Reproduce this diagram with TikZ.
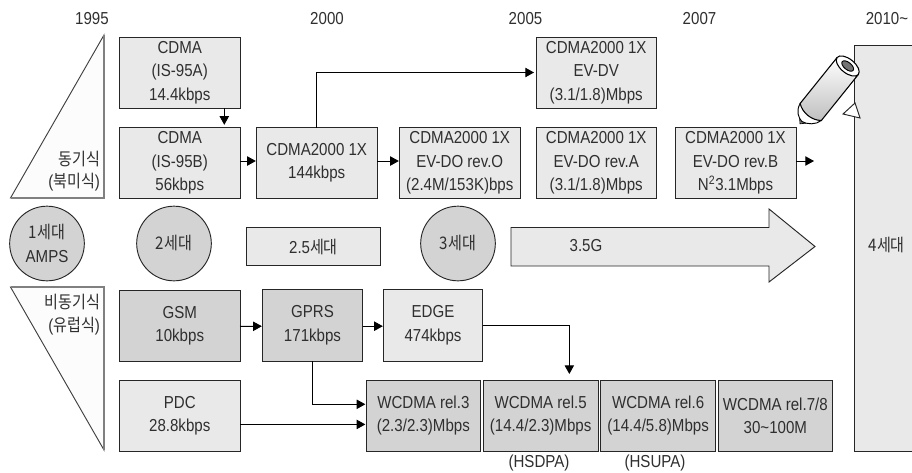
\documentclass[tikz,border=0pt]{standalone}
\usepackage{fontspec}
\setmainfont[FakeStretch=0.87]{Liberation Sans}
\newfontfamily\kr[FakeStretch=0.87]{Noto Sans CJK KR}
\usetikzlibrary{arrows.meta}
\definecolor{lightbox}{HTML}{E9E9E9}
\definecolor{darkbox}{HTML}{D3D3D3}
\definecolor{ink}{HTML}{2F2F2F}
\newcommand{\bx}[7]{%
  \pgfmathsetmacro{\bxcx}{(#3+#5)/2}\pgfmathsetmacro{\bxcy}{(#4+#6)/2}%
  \pgfmathsetmacro{\bxw}{(#5-#3)*0.75}\pgfmathsetmacro{\bxh}{(#6-#4)*0.75}%
  \node[#2,minimum width=\bxw pt,minimum height=\bxh pt] (#1) at (\bxcx,\bxcy) {#7};}
\tikzset{
  every node/.style={font=\fontsize{13}{17.6}\selectfont,text=ink,align=center,inner sep=0pt,outer sep=0pt},
  lightb/.style={draw=black!85,line width=0.7pt,fill=lightbox,rectangle},
  darkb/.style={draw=black!85,line width=0.7pt,fill=darkbox,rectangle},
  gen/.style={circle,draw=black!85,line width=0.7pt,fill=darkbox,minimum size=56pt},
  conn/.style={draw=black,line width=0.7pt,-{Triangle[length=6.5pt,width=7pt]}},
  tri/.style={fill=white!99!black,draw=black!75,line width=0.7pt,line join=miter},
}
\begin{document}
\begin{tikzpicture}[x=0.75pt,y=-0.75pt]
\useasboundingbox (0,0) rectangle (912,472);
\fill[white] (0,0) rectangle (912,472);
% years
\node (y1) at (92,19) {1995};
\node (y2) at (327,19) {2000};
\node (y3) at (525.5,19) {2005};
\node (y4) at (699.5,19) {2007};
\node (y5) at (887,19) {2010\textasciitilde};
% triangles
\draw[tri] (104,35) -- (104,198) -- (10.5,198) -- cycle;
\draw[tri] (10.5,287) -- (104,287) -- (104,450) -- cycle;
\draw[gray,line width=0.9pt] (104,35) -- (104,198) -- (10.5,198);
\draw[gray,line width=0.9pt] (10.5,287) -- (104,287) -- (104,450);
\node[anchor=east] (t1) at (100,159) {\kr 동기식};
\node[anchor=east] (t2) at (100,182) {({\kr 북미식})};
\node[anchor=east] (t3) at (100,302) {\kr 비동기식};
\node[anchor=east] (t4) at (100,326) {({\kr 유럽식})};
% upper row
\bx{a}{lightb}{119.5}{37}{240}{108}{CDMA\\(IS-95A)\\14.4kbps}
\bx{b}{lightb}{119.5}{127.5}{240}{198.5}{CDMA\\(IS-95B)\\56kbps}
\bx{c}{lightb}{256.5}{127.5}{377}{198.5}{CDMA2000 1X\\144kbps}
\bx{d}{lightb}{399.5}{127.5}{520}{198.5}{CDMA2000 1X\\EV-DO rev.O\\(2.4M/153K)bps}
\bx{e}{lightb}{536}{37}{656.5}{108}{CDMA2000 1X\\EV-DV\\(3.1/1.8)Mbps}
\bx{f}{lightb}{536}{127.5}{656.5}{198.5}{CDMA2000 1X\\EV-DO rev.A\\(3.1/1.8)Mbps}
\bx{g}{lightb}{675}{127.5}{796}{198.5}{CDMA2000 1X\\EV-DO rev.B\\N\textsuperscript{2}3.1Mbps}
\coordinate (gout) at (814,161);
% generations
\node[gen] (g1) at (47,243.5) {{\kr 1세대}\\AMPS};
\node[gen] (g2) at (174,243.5) {\kr 2세대};
\node[gen] (g3) at (458,243.5) {\kr 3세대};
\bx{g25}{lightb}{246.5}{227.5}{380.5}{265.5}{2.5{\kr 세대}}
\draw[lightb,line join=miter] (511,227.5) -- (769,227.5) -- (769,209) -- (815,246.5) -- (769,282) -- (769,266) -- (511,266) -- cycle;
\node (g35) at (586,246) {3.5G};
% 4G
\fill[lightbox] (854,45) rectangle (912,451.5);
\draw[black!85,line width=0.7pt] (912,45) -- (854,45) -- (854,451.5) -- (912,451.5);
\node (g4) at (886.7,245) {\kr 4세대};
% lower row
\bx{h}{darkb}{119.5}{290}{240}{361}{GSM\\10kbps}
\bx{i}{lightb}{119.5}{380}{240}{451.5}{PDC\\28.8kbps}
\bx{j}{darkb}{262.5}{289.5}{362.5}{361}{GPRS\\171kbps}
\bx{k}{lightb}{383.5}{289.5}{482.5}{361}{EDGE\\474kbps}
\bx{l}{darkb}{366}{380}{480.7}{451.5}{WCDMA rel.3\\(2.3/2.3)Mbps}
\bx{m}{darkb}{483.3}{380}{598}{451.5}{WCDMA rel.5\\(14.4/2.3)Mbps}
\bx{n}{darkb}{600.7}{380}{715.5}{451.5}{WCDMA rel.6\\(14.4/5.8)Mbps}
\bx{o}{darkb}{718}{380}{832.7}{451.5}{WCDMA rel.7/8\\30\textasciitilde100M}
\node (hs1) at (539,463) {(HSDPA)};
\node (hs2) at (655,463) {(HSUPA)};
% connectors
\draw[conn] ([xshift=33.4pt]a.south) -- ([xshift=33.4pt,yshift=2pt]b.north);
\draw[conn] ([yshift=1.5pt]b.east) -- ([yshift=1.5pt,xshift=-0.5pt]c.west);
\draw[conn] ([yshift=1.5pt]c.east) -- ([yshift=1.5pt,xshift=-0.5pt]d.west);
\draw[conn] ([yshift=1.5pt]g.east) -- (gout);
\draw[conn] (c.north) |- ([xshift=-1.5pt]e.west);
\draw[conn] ([yshift=-0.7pt]h.east) -- ([yshift=-0.7pt,xshift=-0.5pt]j.west);
\draw[conn] ([yshift=-0.7pt]j.east) -- ([yshift=-0.7pt,xshift=-0.5pt]k.west);
\draw[conn] (k.east) -| ([xshift=21.5pt,yshift=4.5pt]m.north);
\draw[conn] (j.south) |- ([yshift=8.6pt,xshift=-0.5pt]l.west);
\draw[conn] ([yshift=-6.5pt]i.east) -- ([yshift=-6.5pt,xshift=-0.5pt]l.west);
% speech tail
\draw[fill=white,line width=0.7pt,draw=black!85,line join=miter] (855,103) -- (843,114) -- (860,118) -- cycle;
% pencil
\begin{scope}[shift={(847.7,66)},rotate=231.2,x=0.75pt,y=0.75pt]
  \draw[fill=black!55,line width=0.5pt] (71,-4.5) -- (75,-1) -- (71,3) -- cycle;
  \draw[fill=white,line width=0.7pt] (59,-13.6) .. controls (68,-12) and (71,-6) .. (72,-1) .. controls (71,5) and (66,12) .. (59,13.6) -- cycle;
  \shade[bottom color=black!25,middle color=black!60,top color=white] (0,-13.6) -- (59,-13.6) .. controls (65,-6) and (65,6) .. (59,13.6) -- (0,13.6) -- cycle;
  \draw[line width=0.8pt] (0,-13.6) -- (59,-13.6) .. controls (65,-6) and (65,6) .. (59,13.6) -- (0,13.6);
  \draw[fill=white,line width=0.8pt] (0,0) ellipse [x radius=7,y radius=13.6];
  \draw[fill=black!55,line width=0.7pt] (0,0) ellipse [x radius=3.6,y radius=7];
\end{scope}
\end{tikzpicture}
\end{document}
